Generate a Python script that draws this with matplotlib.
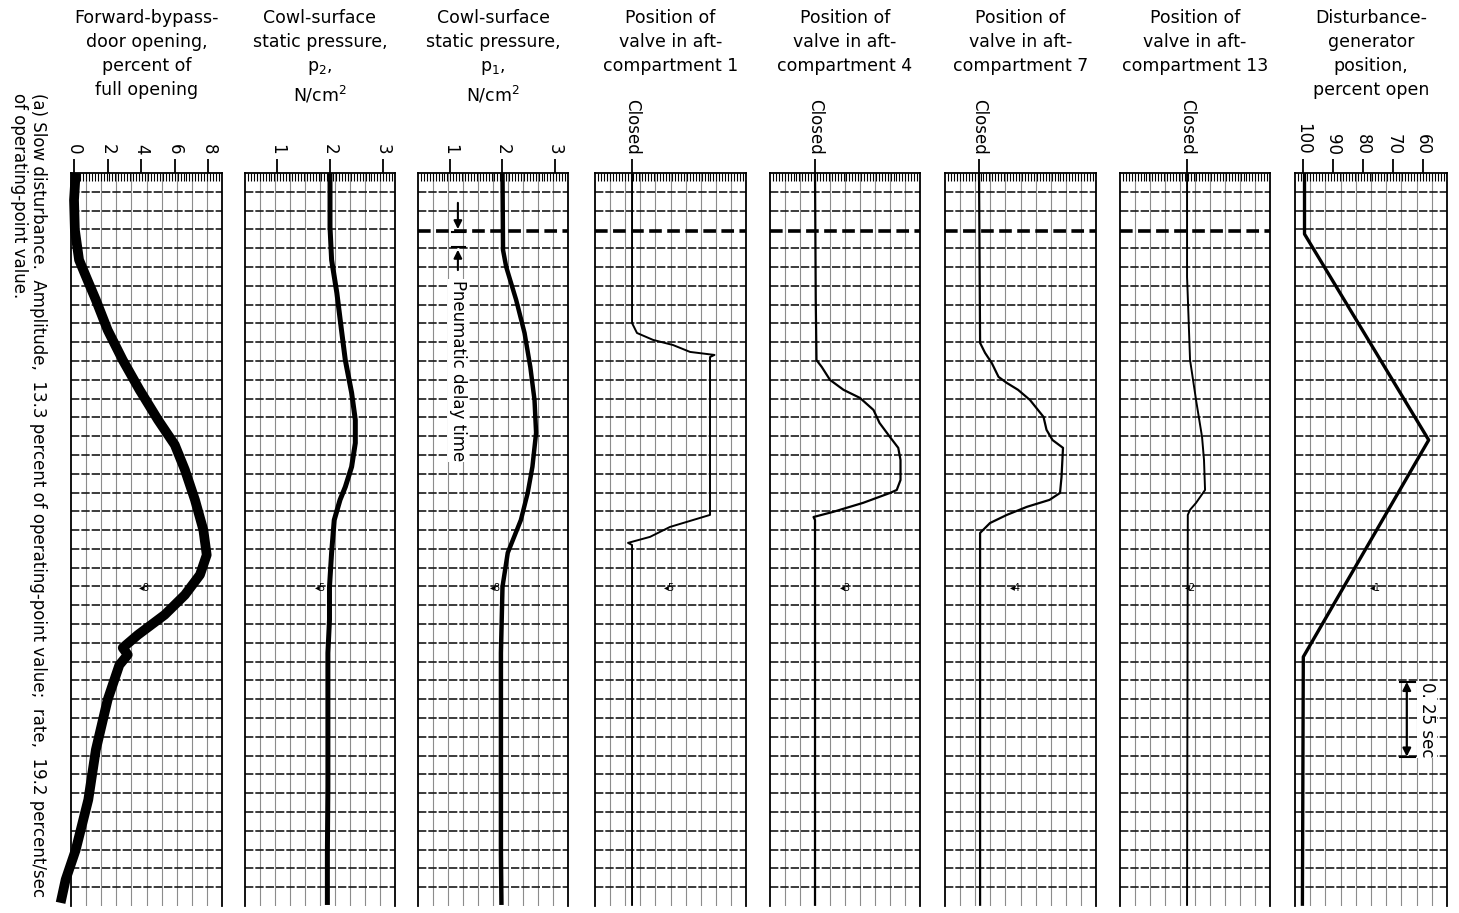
import numpy as np
import matplotlib
matplotlib.use("Agg")
import matplotlib.pyplot as plt
from matplotlib.ticker import FixedLocator

plt.rcParams['font.family'] = ['DejaVu Sans']
plt.rcParams['mathtext.default'] = 'regular'

# ---------------- data (time in seconds, 0 at top of record) ----------------
t_bypass = [0.000, 0.090, 0.189, 0.289, 0.356, 0.422, 0.522, 0.622, 0.721, 0.821,
            0.904, 0.987, 1.087, 1.187, 1.270, 1.336, 1.403, 1.469, 1.536, 1.579,
            1.602, 1.636, 1.752, 1.918, 2.084, 2.251, 2.350, 2.427]
v_bypass = [0.1, 0.0, 0.05, 0.3, 0.8, 1.3, 2.0, 2.9, 3.9, 5.0,
            6.0, 6.6, 7.2, 7.7, 7.9, 7.5, 6.6, 5.4, 3.8, 2.9,
            3.2, 2.7, 2.0, 1.3, 0.85, 0.1, -0.5, -0.8]

t_p2 = [0.000, 0.180, 0.289, 0.399, 0.512, 0.622, 0.731, 0.821, 0.898, 0.977,
        1.044, 1.087, 1.154, 1.263, 1.376, 1.486, 1.596, 1.818, 2.041, 2.261, 2.434]
v_p2 = [2.00, 2.00, 2.03, 2.13, 2.21, 2.29, 2.41, 2.48, 2.48, 2.41,
        2.29, 2.19, 2.08, 2.03, 1.99, 1.99, 1.96, 1.96, 1.96, 1.95, 1.95]

t_p1 = [0.000, 0.256, 0.312, 0.422, 0.532, 0.645, 0.755, 0.864, 0.977, 1.064,
        1.154, 1.263, 1.376, 1.596, 1.928, 2.261, 2.434]
v_p1 = [2.00, 2.01, 2.07, 2.26, 2.42, 2.53, 2.61, 2.64, 2.57, 2.48,
        2.35, 2.10, 2.00, 1.97, 1.97, 1.97, 1.98]

# valve positions, chart divisions from "Closed"
t_v1 = [0.000, 0.499, 0.532, 0.555, 0.572, 0.595, 0.605, 0.612, 1.137, 1.177,
        1.210, 1.230, 1.237, 2.437]
v_v1 = [0, 0, 0.33, 1.4, 2.73, 3.87, 5.5, 5.2, 5.2, 2.53, 1.2, -0.27, 0, 0]

t_v4 = [0.000, 0.422, 0.622, 0.645, 0.688, 0.721, 0.748, 0.788, 0.831, 0.878,
        0.914, 0.954, 1.021, 1.054, 1.064, 1.097, 1.127, 1.144, 1.154, 2.437]
v_v4 = [0, 0.05, 0.1, 0.45, 1.0, 1.9, 3.0, 3.9, 4.3, 5.0,
        5.55, 5.7, 5.7, 5.45, 5.0, 3.2, 1.2, -0.1, 0, 0]

t_v7 = [0.000, 0.565, 0.598, 0.632, 0.678, 0.698, 0.721, 0.755, 0.811, 0.854,
        0.888, 0.914, 1.011, 1.064, 1.087, 1.110, 1.137, 1.164, 1.197, 2.437]
v_v7 = [0, 0.07, 0.4, 0.85, 1.3, 1.85, 2.6, 3.4, 4.3, 4.5,
        4.9, 5.6, 5.5, 5.4, 4.7, 3.2, 1.85, 0.73, 0.07, 0.07]

t_v13 = [0.000, 0.346, 0.399, 0.622, 0.688, 0.755, 0.878, 0.954, 1.054, 1.097,
         1.120, 1.137, 2.437]
v_v13 = [0, 0, 0.04, 0.2, 0.4, 0.6, 1.0, 1.13, 1.2, 0.6, 0.2, 0.05, 0]

t_dist = [0.000, 0.203, 0.888, 1.609, 2.437]
v_dist = [99.6, 99.6, 58.2, 100.0, 100.3]

headers = [
    "Forward-bypass-\ndoor opening,\npercent of\nfull opening",
    "Cowl-surface\nstatic pressure,\n$p_2$,\nN/cm$^2$",
    "Cowl-surface\nstatic pressure,\n$p_1$,\nN/cm$^2$",
    "Position of\nvalve in aft-\ncompartment 1",
    "Position of\nvalve in aft-\ncompartment 4",
    "Position of\nvalve in aft-\ncompartment 7",
    "Position of\nvalve in aft-\ncompartment 13",
    "Disturbance-\ngenerator\nposition,\npercent open",
]
tick_vals = [[0, 2, 4, 6, 8], [1, 2, 3], [1, 2, 3], [0], [0], [0], [0],
             [100, 90, 80, 70, 60]]
tick_labels = [["0", "2", "4", "6", "8"], ["1", "2", "3"], ["1", "2", "3"],
               ["Closed"], ["Closed"], ["Closed"], ["Closed"],
               ["100", "90", "80", "70", "60"]]
marker_labels = ["◂8", "◂5", "◂8", "◂5", "◂3", "◂4", "◂2", "◂1"]
marker_x = [4.2, 1.82, 1.87, 2.5, 2.0, 2.4, 0.2, 76]
marker_t = 1.38

caption = ("(a) Slow disturbance.  Amplitude,  13.3 percent of operating-point value;  "
           "rate,  19.2 percent/sec\nof operating-point value.")

# ---------------- layout ----------------
W, H = 1459, 913
fig = plt.figure(figsize=(W / 100, H / 100), dpi=100)
fig.patch.set_facecolor('white')

TOP, BOT = 173, 906
ROW = 0.0625
NROWS = 39
T_END = ROW * NROWS

edges = [(71, 222), (245, 395), (418, 568), (595, 746), (770, 920),
         (945, 1096), (1120, 1270), (1295, 1447)]
xlims = [(-0.18, 8.81), (0.387, 3.233), (0.39, 3.248), (-2.47, 7.6),
         (-3.0, 7.0), (-2.27, 7.8), (-4.47, 5.53), (102.77, 52.1)]

series = [(t_bypass, v_bypass, 7.0), (t_p2, v_p2, 3.6), (t_p1, v_p1, 3.2),
          (t_v1, v_v1, 1.4), (t_v4, v_v4, 1.6), (t_v7, v_v7, 1.6),
          (t_v13, v_v13, 1.4), (t_dist, v_dist, 2.4)]

axes = []
for i, ((x0, x1), xl) in enumerate(zip(edges, xlims)):
    ax = fig.add_axes([x0 / W, 1 - BOT / H, (x1 - x0) / W, (BOT - TOP) / H])
    ax.set_xlim(*xl)
    ax.set_ylim(T_END, 0)
    ax.set_yticks([])
    ax.xaxis.tick_top()
    ax.spines['bottom'].set_visible(False)
    for s in ('left', 'right', 'top'):
        ax.spines[s].set_linewidth(1.3)
    ax.set_xticks(tick_vals[i])
    ax.set_xticklabels(tick_labels[i])
    ax.xaxis.set_minor_locator(FixedLocator(np.linspace(xl[0], xl[1], 52)[1:-1]))
    ax.tick_params(axis='x', which='major', direction='out', length=10, width=1.3,
                   pad=3, labelsize=12, labelrotation=-90)
    ax.tick_params(axis='x', which='minor', direction='in', length=6, width=0.8)
    # chart-paper grid
    for k in range(1, NROWS):
        if k == 3 and 2 <= i <= 6:
            continue
        ax.axhline(k * ROW, color='#1a1a1a', lw=1.2, ls=(0, (5, 1.2)), zorder=1)
    for j in range(1, 10):
        ax.plot([j / 10, j / 10], [0, 1], transform=ax.transAxes,
                color='#8c8c8c', lw=0.8, zorder=0.5)
    if 2 <= i <= 6:
        ax.axhline(3 * ROW + 0.005, color='k', lw=2.6, ls=(0, (3.5, 1.5)), zorder=2)
    t, v, lw = series[i]
    ax.plot(v, t, color='k', lw=lw, solid_joinstyle='round', solid_capstyle='butt',
            zorder=3, clip_on=False)
    ax.text(marker_x[i], marker_t, marker_labels[i], fontsize=7, ha='center',
            va='center', zorder=4)
    fig.text(((x0 + x1) / 2) / W, 1 - 9 / H, headers[i], ha='center', va='top',
             fontsize=12.5, linespacing=1.42)
    axes.append(ax)

# pneumatic delay time annotation (p1 panel)
ax3 = axes[2]
ax3.annotate('', xy=(1.15, 0.196), xytext=(1.15, 0.09),
             arrowprops=dict(arrowstyle='-|>', color='k', lw=1.5, mutation_scale=12))
ax3.annotate('', xy=(1.15, 0.246), xytext=(1.15, 0.332),
             arrowprops=dict(arrowstyle='-|>', color='k', lw=1.5, mutation_scale=12))
ax3.plot([1.04, 1.29], [0.196, 0.196], color='k', lw=1.5, zorder=4)
ax3.plot([1.04, 1.29], [0.246, 0.246], color='k', lw=1.5, zorder=4)
ax3.text(1.15, 0.356, "Pneumatic delay time", rotation=-90, ha='center', va='top',
         fontsize=12, zorder=5,
         bbox=dict(facecolor='white', edgecolor='none', pad=0.5))

# 0.25 sec scale bar (disturbance panel)
ax8 = axes[7]
ax8.annotate('', xy=(65.5, 1.692), xytext=(65.5, 1.941),
             arrowprops=dict(arrowstyle='<|-|>', color='k', lw=1.6, mutation_scale=12,
                             shrinkA=0, shrinkB=0))
ax8.plot([67.8, 62.8], [1.692, 1.692], color='k', lw=1.5)
ax8.plot([67.8, 62.8], [1.941, 1.941], color='k', lw=1.5)
ax8.text(58.8, 1.817, "0. 25 sec", rotation=-90, ha='center', va='center',
         fontsize=12, zorder=5,
         bbox=dict(facecolor='white', edgecolor='none', pad=0.5))

# caption (rotated)
fig.text(10 / W, 1 - 93 / H, caption, rotation=-90, ha='left', va='top',
         fontsize=12, linespacing=1.1, multialignment='left')

fig.savefig("out.png", dpi=100, facecolor='white')
